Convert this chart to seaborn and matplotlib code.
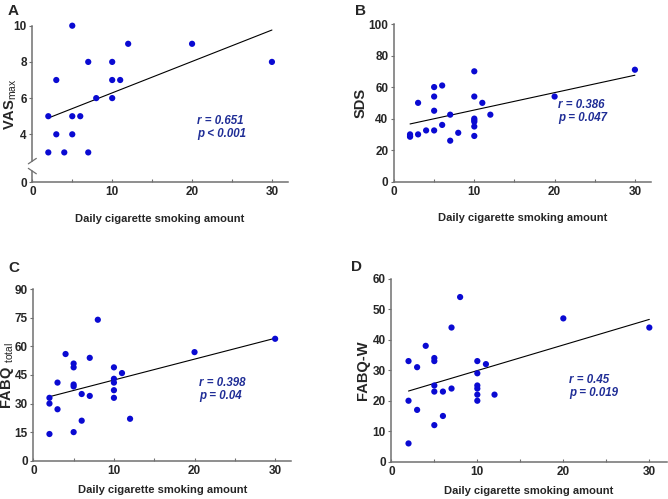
import matplotlib
matplotlib.use('Agg')

import numpy as np
import pandas as pd
import seaborn as sns
import matplotlib.pyplot as plt
from matplotlib.ticker import MultipleLocator

# daily cigarettes per subject
smoking_a = [2, 2, 3, 3, 4, 5, 5, 5, 6, 7, 7, 8, 10, 10, 10, 11, 12, 20, 30]
vas_max = [5, 3, 7, 4, 3, 10, 5, 4, 5, 8, 3, 6, 8, 7, 6, 7, 9, 9, 8]

smoking_b = [2, 2, 2, 3, 3, 4, 5, 5, 5, 5, 6, 6, 7, 7, 8, 10, 10, 10, 10, 10, 10, 10, 11, 12, 20, 30]
sds = [30, 29, 28.5, 50, 30, 32.5, 60, 54, 45, 32.5, 61, 36, 42.5, 26, 31, 70, 54, 40, 39, 38, 35, 29, 50, 42.5, 54, 71]

smoking_c = [2, 2, 2, 3, 3, 4, 5, 5, 5, 5, 5, 6, 6, 7, 7, 8, 10, 10, 10, 10, 10, 11, 12, 20, 30]
fabq_total = [33, 30, 14, 41, 27, 56, 51, 49, 40, 39, 15, 35, 21, 54, 34, 74, 49, 43, 41, 37, 33, 46, 22, 57, 64]

smoking_d = [2, 2, 2, 3, 3, 4, 5, 5, 5, 5, 5, 6, 6, 7, 7, 8, 10, 10, 10, 10, 10, 10, 11, 12, 20, 30]
fabq_w = [33, 20, 6, 31, 17, 38, 34, 33, 25, 23, 12, 23, 15, 44, 24, 54, 33, 29, 25, 24, 22, 20, 32, 22, 47, 44]

# fitted lines as drawn (intercept, slope)
fit_a = (4.553, 0.1736)
fit_b = (34.4, 1.104)
fit_c = (31.4, 1.096)
fit_d = (21.5, 0.839)

stats_a = 'r = 0.651\np < 0.001'
stats_b = 'r = 0.386\np = 0.047'
stats_c = 'r = 0.398\np = 0.04'
stats_d = 'r = 0.45\np = 0.019'

sns.set_style('ticks')
plt.rcParams['font.family'] = ['Liberation Sans', 'DejaVu Sans']
plt.rcParams['mathtext.fontset'] = 'custom'
plt.rcParams['mathtext.rm'] = 'Liberation Sans'
plt.rcParams['mathtext.bf'] = 'Liberation Sans:bold'

dot_color = '#0a0ad2'
text_color = '#1f2d96'
spine_color = '#707070'

fig = plt.figure(figsize=(6.68, 4.99), dpi=100)


def draw_panel(rect, x, y, fit, stats, stats_pos, ylabel, ylabel_x, yticks, ylim,
               letter, letter_pos, xlabelpad):
    ax = fig.add_axes(rect)
    df = pd.DataFrame({'x': x, 'y': y})
    sns.scatterplot(data=df, x='x', y='y', ax=ax, color=dot_color, s=20,
                    edgecolor='none', linewidth=0, zorder=3, clip_on=False)
    xs = np.array([2, 30])
    ax.plot(xs, fit[0] + fit[1] * xs, color='black', lw=0.8)
    ax.text(stats_pos[0], stats_pos[1], stats, color=text_color, fontsize=8.3,
            fontweight='bold', fontstyle='italic', ha='left', va='center', linespacing=1.1)
    ax.set_xlim(0, 32)
    ax.set_ylim(*ylim)
    ax.set_xticks([0, 10, 20, 30])
    ax.xaxis.set_minor_locator(MultipleLocator(5))
    ax.set_yticks(yticks)
    for side in ['top', 'right']:
        ax.spines[side].set_visible(False)
    for side in ['left', 'bottom']:
        ax.spines[side].set_color(spine_color)
        ax.spines[side].set_linewidth(1.1)
    ax.spines['bottom'].set_bounds(0, 32)
    ax.tick_params(axis='x', which='both', direction='in', length=2.5, width=0.8,
                   color=spine_color, pad=3)
    ax.tick_params(axis='y', direction='out', length=2.5, width=0.8,
                   color=spine_color, pad=1.5)
    for lab in ax.get_xticklabels() + ax.get_yticklabels():
        lab.set_fontsize(8.5)
        lab.set_fontweight('bold')
    ax.set_xlabel('Daily cigarette smoking amount', fontsize=8, fontweight='bold',
                  labelpad=xlabelpad)
    ax.set_ylabel(ylabel, fontsize=10.5, fontweight='bold', va='center')
    ax.yaxis.set_label_coords(ylabel_x, 0.5)
    fig.text(letter_pos[0], letter_pos[1], letter, fontsize=11, fontweight='bold',
             ha='left', va='center')
    return ax


ax_a = draw_panel([0.0484, 0.6347, 0.3826, 0.3138], smoking_a, vas_max, fit_a, stats_a,
                  (20.6, 4.4), r'$\mathbf{VAS}_{\mathrm{max}}$', -0.086, [1.35, 4, 6, 8, 10],
                  (1.35, 10), 'A', (0.012, 0.978), 11)
ax_a.set_yticklabels(['0', '4', '6', '8', '10'], fontsize=8.5, fontweight='bold')
# broken y axis
ax_a.spines['left'].set_bounds(2.52, 10)
ax_a.plot([0, 0], [1.35, 1.97], color=spine_color, lw=1.1, clip_on=False)
ax_a.plot([-0.5, 0.5], [2.37, 2.67], color=spine_color, lw=0.9, clip_on=False)
ax_a.plot([-0.5, 0.5], [2.12, 1.82], color=spine_color, lw=0.9, clip_on=False)

draw_panel([0.5898, 0.6359, 0.3847, 0.3160], smoking_b, sds, fit_b, stats_b,
           (20.4, 44.3), 'SDS', -0.128, [0, 20, 40, 60, 80, 100], (0, 100), 'B',
           (0.532, 0.978), 11)

draw_panel([0.0499, 0.0768, 0.3861, 0.3435], smoking_c, fabq_total, fit_c, stats_c,
           (20.6, 37.4), r'$\mathbf{FABQ}\ _{\mathrm{total}}$', -0.1,
           [0, 15, 30, 45, 60, 75, 90], (0, 90), 'C', (0.012, 0.463), 6)

draw_panel([0.5858, 0.0747, 0.4120, 0.3667], smoking_d, fabq_w, fit_d, stats_d,
           (20.7, 24.8), 'FABQ-W', -0.103, [0, 10, 20, 30, 40, 50, 60], (0, 60), 'D',
           (0.525, 0.465), 6)

plt.savefig('out.png', dpi=100)
plt.close()
